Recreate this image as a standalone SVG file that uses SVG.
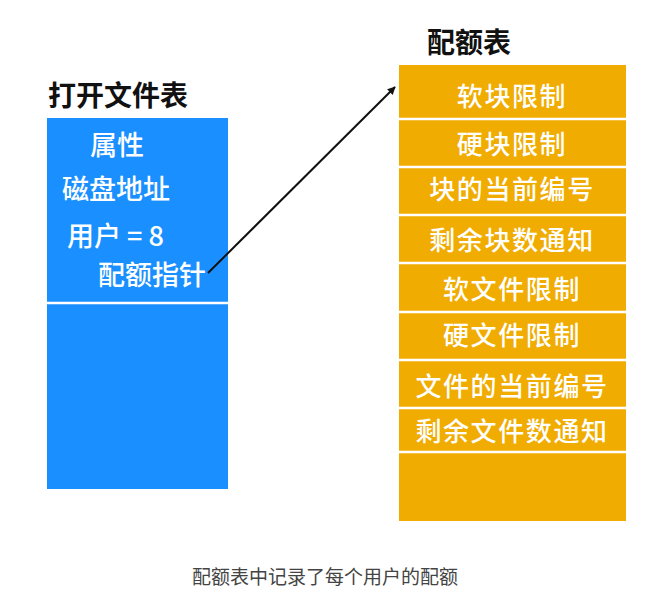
<svg xmlns="http://www.w3.org/2000/svg" width="661" height="593" viewBox="0 0 661 593">
<defs>
<style>
.t{font-family:"Noto Sans CJK SC","Noto Sans",sans-serif;}
.title{font-size:28px;font-weight:700;fill:#111;}
.w{font-size:27px;font-weight:500;fill:#fff;}
.o{font-size:26px;font-weight:500;fill:#fff;text-anchor:middle;letter-spacing:1.6px;}
.div{stroke:#fff;stroke-width:2.5;}
.cap{font-size:19px;fill:#444;text-anchor:middle;}
</style>
<marker id="ah" viewBox="0 0 10 10" refX="9" refY="5" markerWidth="8" markerHeight="8" markerUnits="userSpaceOnUse" orient="auto"><path d="M0,0 L10,5 L0,10 z" fill="#111"/></marker>
</defs>
<rect width="661" height="593" fill="#fff"/>
<g id="open-file-table">
<text class="t title" x="48" y="106">打开文件表</text>
<rect x="47" y="118" width="181" height="371" fill="#1A8FFF"/>
<line class="div" x1="47" y1="303" x2="228" y2="303"/>
<text class="t w" x="90" y="155">属性</text>
<text class="t w" x="62" y="199">磁盘地址</text>
<text class="t w" x="67" y="246">用户 = 8</text>
<text class="t w" x="98" y="285">配额指针</text>
</g>
<g id="quota-table">
<text class="t title" x="427" y="53">配额表</text>
<rect x="399" y="65" width="227" height="456" fill="#F0AC00"/>
<line class="div" x1="399" y1="119" x2="626" y2="119"/>
<line class="div" x1="399" y1="167" x2="626" y2="167"/>
<line class="div" x1="399" y1="215" x2="626" y2="215"/>
<line class="div" x1="399" y1="263" x2="626" y2="263"/>
<line class="div" x1="399" y1="312" x2="626" y2="312"/>
<line class="div" x1="399" y1="360" x2="626" y2="360"/>
<line class="div" x1="399" y1="408" x2="626" y2="408"/>
<line class="div" x1="399" y1="452" x2="626" y2="452"/>
<text class="t o" x="512" y="106">软块限制</text>
<text class="t o" x="512" y="154">硬块限制</text>
<text class="t o" x="512" y="199">块的当前编号</text>
<text class="t o" x="512" y="250">剩余块数通知</text>
<text class="t o" x="512" y="299">软文件限制</text>
<text class="t o" x="512" y="345">硬文件限制</text>
<text class="t o" x="512" y="396">文件的当前编号</text>
<text class="t o" x="512" y="441">剩余文件数通知</text>
</g>
<g id="connectors">
<line x1="208" y1="273" x2="395" y2="87" stroke="#111" stroke-width="2" marker-end="url(#ah)"/>
</g>
<text class="t cap" x="325" y="584">配额表中记录了每个用户的配额</text>
</svg>
